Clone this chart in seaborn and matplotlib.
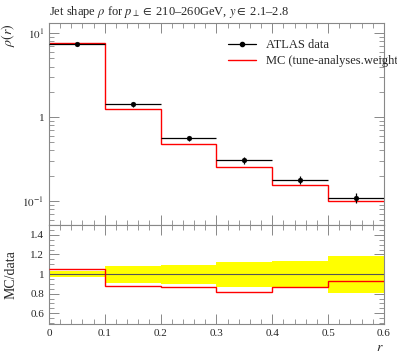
import numpy as np
import matplotlib
matplotlib.use("Agg")
import matplotlib.pyplot as plt
import seaborn as sns
from matplotlib.ticker import MultipleLocator, LogLocator, FixedLocator, FuncFormatter, NullFormatter

# bin edges in r
edges = [0.0, 0.1, 0.2, 0.3, 0.4, 0.5, 0.6]
data_vals = [7.33, 1.42, 0.557, 0.308, 0.178, 0.109]
data_err = [0.25, 0.10, 0.04, 0.030, 0.018, 0.014]
mc_vals = [7.70, 1.243, 0.482, 0.251, 0.155, 0.101]
# relative data uncertainty band (ratio panel)
band_lo = [0.965, 0.91, 0.90, 0.87, 0.86, 0.81]
band_hi = [1.035, 1.08, 1.09, 1.12, 1.13, 1.18]

sns.set_style("ticks")
plt.rcParams['font.family'] = ['Liberation Serif', 'DejaVu Serif']
plt.rcParams['mathtext.fontset'] = 'stix'

edges = np.array(edges)
centers = 0.5 * (edges[:-1] + edges[1:])
halfw = 0.5 * np.diff(edges)
data_vals = np.array(data_vals)
mc_vals = np.array(mc_vals)
ratio = mc_vals / data_vals

fig = plt.figure(figsize=(3.97, 3.58), dpi=100)
ax = fig.add_axes([0.1234, 0.3715, 0.8438, 0.5643])
rax = fig.add_axes([0.1234, 0.095, 0.8438, 0.2765], sharex=ax)

grey = '#888888'

# main panel
ax.stairs(mc_vals, edges, color='red', lw=1.0, baseline=None, label='MC (tune-analyses.weight',
          zorder=2)
ax.errorbar(centers, data_vals, xerr=halfw, yerr=data_err, fmt='none', ecolor='black',
            elinewidth=0.9, zorder=3)
sns.scatterplot(x=centers, y=data_vals, ax=ax, color='black', s=12, edgecolor='black',
                zorder=4)
ax.plot([], [], color='black', marker='o', ms=3, lw=0.9, label='ATLAS data')

ax.set_yscale('log')
ax.set_ylim(0.0518, 13.2)
ax.set_xlim(0, 0.6)


def logfmt(v, pos):
    e = int(round(np.log10(v)))
    if e == 0:
        return '1'
    return r'$10^{%d}$' % e


ax.yaxis.set_major_locator(LogLocator(base=10))
ax.yaxis.set_major_formatter(FuncFormatter(logfmt))
ax.yaxis.set_minor_locator(LogLocator(base=10, subs=np.arange(2, 10)))
ax.yaxis.set_minor_formatter(NullFormatter())
ax.set_ylabel(r'$\rho(r)$', fontsize=10, loc='top')
ax.set_title(r'Jet shape $\rho$ for $p_\perp \in$ 210–260GeV, $y \in$ 2.1–2.8',
             fontsize=9, loc='left', pad=6)

h, l = ax.get_legend_handles_labels()
order = [l.index('ATLAS data'), l.index('MC (tune-analyses.weight')]
ax.legend([h[i] for i in order], [l[i] for i in order], loc='upper left',
          bbox_to_anchor=(0.52, 0.945), frameon=False, fontsize=9, handlelength=2.2,
          borderaxespad=0, labelspacing=0.35)

# ratio panel
rax.stairs(band_hi, edges, baseline=band_lo, fill=True, color='yellow', lw=0, zorder=1)
rax.axhline(1.0, color='#555555', lw=0.8, zorder=2)
rax.stairs(ratio, edges, color='red', lw=1.0, baseline=None, zorder=3)
rax.set_ylim(0.49, 1.5)
rax.yaxis.set_major_locator(FixedLocator([0.6, 0.8, 1.0, 1.2, 1.4]))
rax.yaxis.set_major_formatter(FuncFormatter(lambda v, p: '1' if abs(v - 1) < 1e-6 else '%.1f' % v))
rax.yaxis.set_minor_locator(MultipleLocator(0.05))
rax.xaxis.set_major_locator(MultipleLocator(0.1))
rax.xaxis.set_major_formatter(FuncFormatter(lambda v, p: '0' if abs(v) < 1e-9 else '%.1f' % v))
rax.xaxis.set_minor_locator(MultipleLocator(0.02))
rax.set_ylabel('MC/data', fontsize=10)
rax.set_xlabel(r'$r$', fontsize=10, loc='right', labelpad=2)

for a in (ax, rax):
    for s in a.spines.values():
        s.set_color(grey)
        s.set_linewidth(0.8)
    a.tick_params(which='both', direction='in', top=True, right=True, color=grey,
                  labelsize=8)
    a.tick_params(which='major', length=7, width=0.7)
    a.tick_params(which='minor', length=3.5, width=0.6)
ax.tick_params(labelbottom=False)
ax.yaxis.set_label_coords(-0.095, 1.0)
rax.yaxis.set_label_coords(-0.095, 0.5)

fig.savefig('out.png', dpi=100)
